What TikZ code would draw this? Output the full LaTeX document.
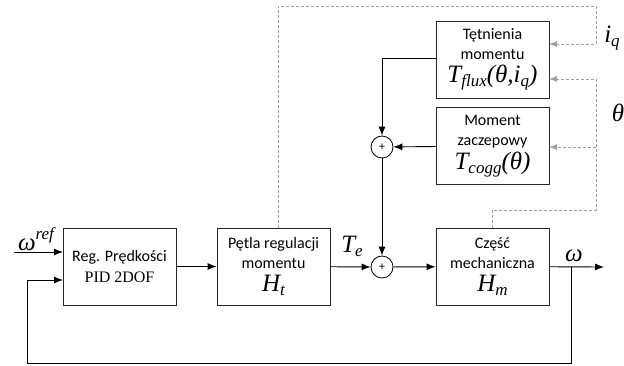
\documentclass[tikz,border=0pt]{standalone}
\usepackage{fontspec}
\setmainfont{Carlito}
\newfontfamily\tnr{Liberation Serif}
\usetikzlibrary{arrows.meta}
\newcommand\mv[1]{{\tnr\itshape #1}}
\newcommand\msub[1]{\raisebox{-0.35ex}{\fontsize{17}{17}\selectfont #1}}
\begin{document}
\begin{tikzpicture}[x=1pt,y=-1pt,
 blk/.style={draw=black!85, line width=0.9pt, minimum width=113pt, minimum height=77pt, inner sep=0pt, align=center, font=\fontsize{16}{20}\selectfont},
 sumc/.style={draw, circle, line width=0.8pt, minimum size=22pt, inner sep=0pt, font=\fontsize{12}{12}\selectfont},
 sig/.style={line width=0.9pt, -{Latex[length=9pt,width=7pt]}},
 dsig/.style={draw=gray!75, line width=0.9pt, dash pattern=on 3pt off 2pt, -{Latex[length=8pt,width=6pt,fill=gray!75]}},
 mlab/.style={font=\fontsize{25}{25}\selectfont\tnr\itshape, inner sep=0pt}
]
\useasboundingbox (0,0) rectangle (624,365);
% blocks
\node[blk, font=\fontsize{16}{21}\selectfont] (pid) at (119.5,266.5) {Reg. Prędkości\\{\tnr PID 2DOF}};
\node[blk] (pet) at (273.5,266.5) {Pętla regulacji\\momentu\\[3pt]{\fontsize{25}{25}\selectfont\mv{H\msub{t}}}};
\node[blk] (mech) at (492.5,266.5) {Część\\mechaniczna\\[3pt]{\fontsize{25}{25}\selectfont\mv{H\msub{m}}}};
\node[blk] (flux) at (492.5,59.5) {Tętnienia\\momentu\\[3pt]{\fontsize{25}{25}\selectfont\mv{T\msub{flux}(θ,i\msub{q})}}};
\node[blk] (cogg) at (492.5,146) {Moment\\zaczepowy\\[3pt]{\fontsize{25}{25}\selectfont\mv{T\msub{cogg}(θ)}}};
\node[sumc] (s1) at (382,147) {+};
\node[sumc] (s2) at (382,267) {+};
% coordinates
\coordinate (in) at (14,252);
\coordinate (pidin) at (63,252);
\coordinate (pidfb) at (63,280);
\coordinate (fb) at (571,267);
\coordinate (out) at (604,267);
\coordinate (fbr) at (571,363);
\coordinate (fbl) at (27,363);
\coordinate (fluxout) at (436,58);
\coordinate (t0) at (278,228);
\coordinate (t1) at (278,6);
\coordinate (t2) at (596,6);
\coordinate (iqin) at (549,44);
\coordinate (m0) at (492,228);
\coordinate (m1) at (492,210);
\coordinate (m2) at (596,210);
\coordinate (thf) at (549,79);
\coordinate (thc) at (549,147);
% solid signals
\draw[sig] (in) -- (pidin);
\draw[sig] (pid) -- (pet);
\draw[sig] (pet) -- (s2);
\draw[sig] (s2) -- (mech);
\draw[sig] (mech) -- (out);
\draw[sig] (fb) -- (fbr) -- (fbl) |- (pidfb);
\draw[sig] (fluxout) -| (s1);
\draw[sig] (cogg) -- (s1);
\draw[sig] (s1) -- (s2);
% dashed signals
\draw[dsig] (t0) -- (t1) -- (t2) |- (iqin);
\draw[dsig] (m0) -- (m1) -- (m2) |- (thf);
\draw[dsig] (m2 |- thc) -- (thc);
% labels
\node[mlab] (lref) at (36,239) {ω\raisebox{1.0ex}{\fontsize{17}{17}\selectfont ref}};
\node[mlab] (lte) at (352,246) {T\msub{e}};
\node[mlab] (lw) at (574,256) {ω};
\node[mlab] (liq) at (612,38) {i\msub{q}};
\node[mlab] (lth) at (618,113) {θ};
\end{tikzpicture}
\end{document}
